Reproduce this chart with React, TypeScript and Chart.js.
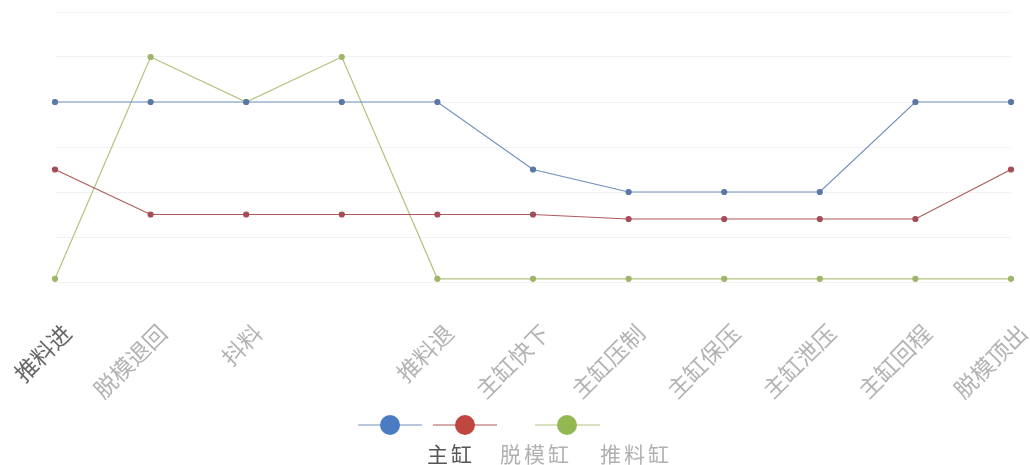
import React, { useEffect, useRef } from "react";
import { Chart, registerables } from "chart.js";

Chart.register(...registerables);

const categories = ["推料进", "脱模退回", "抖料", "", "推料退", "主缸快下", "主缸压制", "主缸保压", "主缸泄压", "主缸回程", "脱模顶出"];
const seriesNames = ["主缸", "脱模缸", "推料缸"];
const mainCylinder = [4, 4, 4, 4, 4, 2.5, 2, 2, 2, 4, 4];
const demoldCylinder = [2.5, 1.5, 1.5, 1.5, 1.5, 1.5, 1.4, 1.4, 1.4, 1.4, 2.5];
const pushCylinder = [0.07, 5, 4, 5, 0.07, 0.07, 0.07, 0.07, 0.07, 0.07, 0.07];

const FONT = "'Noto Sans CJK SC', 'Noto Sans', sans-serif";
const lineColors = ["#6f8fbd", "#b0595a", "#b3c47e"];
const pointColors = ["#5a78a6", "#a54d55", "#9fb56a"];
const legendColors = ["#4a7cc4", "#c0473f", "#93b852"];

const legendPlugin = {
  id: "customLegend",
  afterDraw(chart: any) {
    const ctx = chart.ctx as CanvasRenderingContext2D;
    ctx.save();
    const items = [
      { cx: 390, x1: 358, x2: 422 },
      { cx: 465, x1: 433, x2: 497 },
      { cx: 567, x1: 535, x2: 600 },
    ];
    const y = 425;
    items.forEach((it, i) => {
      ctx.strokeStyle = lineColors[i];
      ctx.lineWidth = 1.2;
      ctx.beginPath();
      ctx.moveTo(it.x1, y);
      ctx.lineTo(it.x2, y);
      ctx.stroke();
      ctx.fillStyle = legendColors[i];
      ctx.beginPath();
      ctx.arc(it.cx, y, 10, 0, Math.PI * 2);
      ctx.fill();
    });
    const labelX = [427, 500, 600];
    ctx.font = `21px ${FONT}`;
    (ctx as any).letterSpacing = "3px";
    ctx.textBaseline = "middle";
    ctx.textAlign = "left";
    seriesNames.forEach((name, i) => {
      ctx.fillStyle = i === 0 ? "#555555" : "#b0b0b0";
      ctx.fillText(name, labelX[i], 454);
    });
    ctx.restore();
  },
};

export default function App() {
  const canvasRef = useRef<HTMLCanvasElement | null>(null);

  useEffect(() => {
    document.body.style.margin = "0";
    const canvas = canvasRef.current;
    if (!canvas) return;
    const values = [mainCylinder, demoldCylinder, pushCylinder];
    const chart = new Chart(canvas, {
      type: "line",
      data: {
        labels: categories,
        datasets: seriesNames.map((name, i) => ({
          label: name,
          data: values[i],
          borderColor: lineColors[i],
          backgroundColor: pointColors[i],
          pointBackgroundColor: pointColors[i],
          pointBorderColor: pointColors[i],
          borderWidth: 1.2,
          pointRadius: 2.5,
          tension: 0,
          fill: false,
        })),
      },
      options: {
        animation: false,
        responsive: false,
        maintainAspectRatio: false,
        layout: { padding: { left: 55, right: 19, top: 12, bottom: 0 } },
        plugins: {
          legend: { display: false },
          tooltip: { enabled: false },
        },
        scales: {
          x: {
            offset: false,
            grid: { display: false },
            border: { display: false },
            afterFit(scale: any) {
              scale.paddingLeft = 0;
              scale.paddingRight = 0;
              scale.height = 183;
            },
            ticks: {
              autoSkip: false,
              maxRotation: 45,
              minRotation: 45,
              padding: 29,
              labelOffset: 12,
              font: { family: FONT, size: 23 },
              color: (c: any) => (c.index === 0 ? "#666666" : "#b3b3b3"),
            },
          },
          y: {
            min: 0,
            max: 6,
            border: { display: false },
            grid: { color: "#f2f2f2", drawTicks: false },
            ticks: { display: false, stepSize: 1 },
          },
        },
      },
      plugins: [legendPlugin],
    });
    return () => chart.destroy();
  }, []);

  return (
    <div style={{ width: 1030, height: 465, background: "#ffffff" }}>
      <canvas ref={canvasRef} width={1030} height={465} style={{ display: "block" }} />
    </div>
  );
}
